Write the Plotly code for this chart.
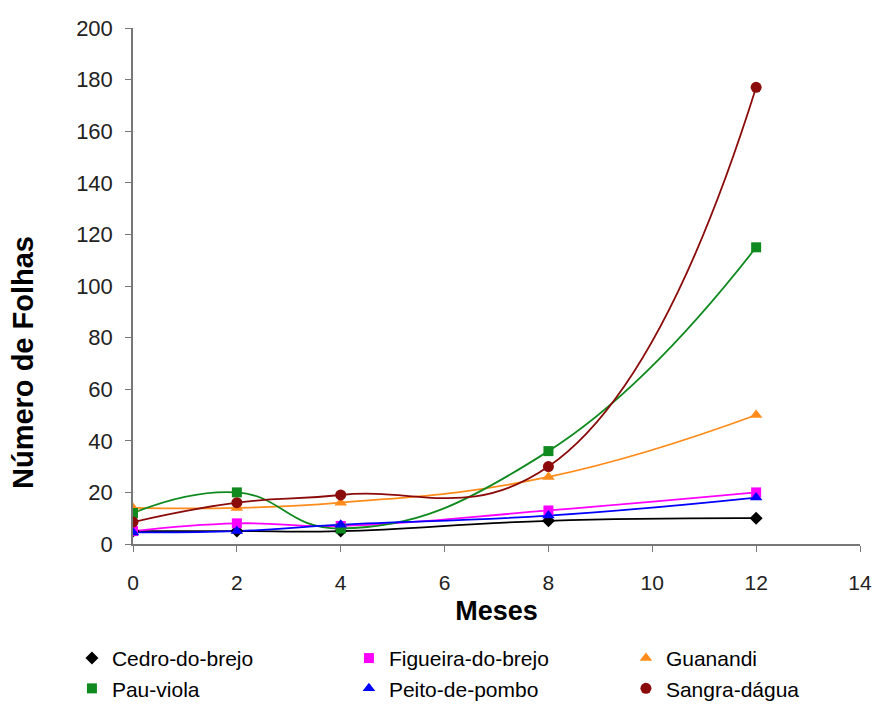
import plotly.graph_objects as go

meses = [0, 2, 4, 8, 12]
cedro = [5, 5, 5, 9, 10]
figueira = [5, 8, 7, 13, 20]
guanandi = [14, 14, 16, 26, 50]
pau_viola = [12, 20, 6, 36, 115]
peito = [4.5, 5, 7.5, 11, 18]
sangra = [8.5, 16, 19, 30, 177]

series = [
    ("Cedro-do-brejo", cedro, "#000000", "diamond", 10),
    ("Figueira-do-brejo", figueira, "#FF00FF", "square", 10),
    ("Guanandi", guanandi, "#FF8C1A", "triangle-up", 11),
    ("Pau-viola", pau_viola, "#0F8A1F", "square", 10),
    ("Peito-de-pombo", peito, "#0000FF", "triangle-up", 11),
    ("Sangra-dágua", sangra, "#8B0A0A", "circle", 11),
]

fig = go.Figure()
for name, vals, color, sym, size in series:
    fig.add_trace(go.Scatter(
        x=meses, y=vals, mode="lines", name=name, showlegend=False,
        line=dict(color=color, width=1.8, shape="spline", smoothing=1.3),
        hoverinfo="skip"))
for name, vals, color, sym, size in series:
    fig.add_trace(go.Scatter(
        x=meses, y=vals, mode="markers", name=name,
        marker=dict(color=color, symbol=sym, size=size)))

font = "Liberation Sans, Arial, sans-serif"
W, H = 877, 704
L, R, T, B = 133, 17, 28, 160
fig.update_layout(
    width=W, height=H,
    margin=dict(l=L, r=R, t=T, b=B, autoexpand=False),
    paper_bgcolor="white", plot_bgcolor="white",
    font=dict(family=font, color="#222222", size=21),
    xaxis=dict(range=[0, 14], tickvals=[0, 2, 4, 6, 8, 10, 12, 14],
               showgrid=False, zeroline=False, showline=True, linecolor="#777777",
               linewidth=1.5, ticks="outside", ticklen=6, tickcolor="#777777",
               tickfont=dict(size=21), ticklabelstandoff=13,
               title=dict(text="<b>Meses</b>", font=dict(size=27, color="#000000"), standoff=8)),
    yaxis=dict(range=[0, 200], tickvals=list(range(0, 201, 20)),
               showgrid=False, zeroline=False, showline=True, linecolor="#777777",
               linewidth=1.5, ticks="outside", ticklen=6, tickcolor="#777777",
               tickfont=dict(size=22), ticklabelstandoff=8),
    legend=dict(orientation="h", x=-0.084, xanchor="left", y=-0.182, yanchor="top",
                entrywidth=232, entrywidthmode="pixels", itemwidth=30,
                font=dict(size=21, color="#000000"), tracegroupgap=0),
    annotations=[dict(
        text="<b>Número de Folhas</b>", textangle=-90, showarrow=False,
        xref="paper", yref="paper",
        x=(23 - L) / (W - L - R), y=1 - (363 - T) / (H - T - B),
        xanchor="center", yanchor="middle",
        font=dict(size=29, color="#000000", family=font))],
)
fig.write_html("out.html", config={"displayModeBar": False},
               post_script="document.body.style.margin='0';")
